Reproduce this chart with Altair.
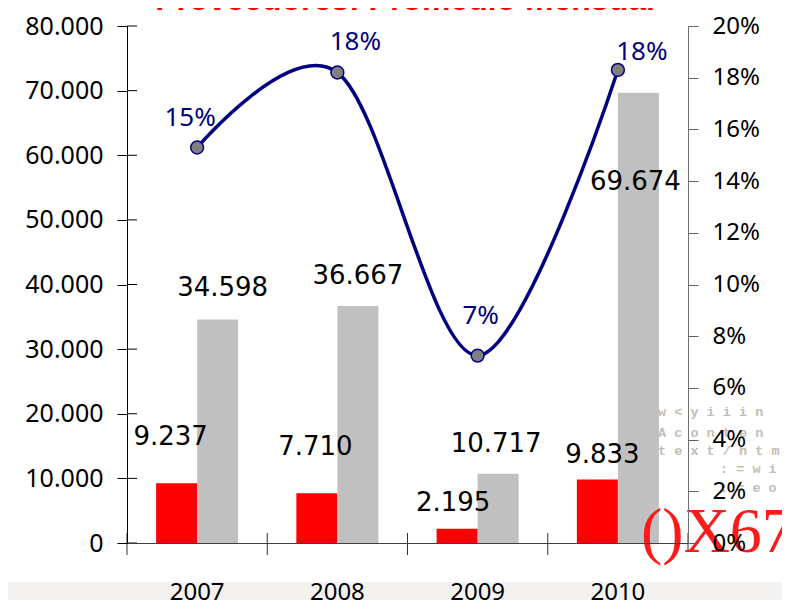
import altair as alt
import pandas as pd

# ---- data ----
years = ["2007", "2008", "2009", "2010"]
red_vals = [9237, 7710, 2195, 9833]
gray_vals = [34598, 36667, 10717, 69674]
pct_vals = [0.153, 0.182, 0.0725, 0.183]
left_ticks = [0, 10000, 20000, 30000, 40000, 50000, 60000, 70000, 80000]
right_ticks = [0, 0.02, 0.04, 0.06, 0.08, 0.10, 0.12, 0.14, 0.16, 0.18, 0.20]
title_text = "Proveedores: Promedio mensual"

# ---- label offsets (pixels, style only) ----
red_dx = [-6, -1.5, -4, 5]
red_dy = [-47, -47, -27, -25]
gray_dx = [5, 0, -2, -3]
gray_dy = [-32, -31, -31, 88]
pct_dx = [-7, 18, 3, 24]
pct_dy = [-30, -32, -41, -19]

W, H = 561, 517
NAVY = "#000080"

bars_df = pd.DataFrame({
    "year": years * 2,
    "series": ["a"] * 4 + ["b"] * 4,
    "value": red_vals + gray_vals,
})
line_df = pd.DataFrame({"year": years, "pct": pct_vals})
one = pd.DataFrame({"k": [1]})

xscale = alt.Scale(paddingInner=0, paddingOuter=0)
offscale = alt.Scale(paddingInner=0, paddingOuter=0.71)
lscale = alt.Scale(domain=[0, 80000])
rscale = alt.Scale(domain=[0, 0.2])

x_axis = alt.Axis(orient="bottom", title=None, ticks=False, tickSize=0, labelPadding=49,
                  labelBaseline="middle", labelAngle=0, labelFont="Noto Sans", labelFontSize=24,
                  labelColor="black", domainColor="#404040", zindex=1)
left_axis = alt.Axis(orient="left", title=None, values=left_ticks, tickSize=10, labelPadding=14,
                     labelFont="Noto Sans", labelFontSize=25, labelColor="black",
                     domainColor="black", tickColor="black", grid=False, zindex=1,
                     labelExpr="replace(format(datum.value, ','), ',', '.')")
right_axis = alt.Axis(orient="right", title=None, values=right_ticks, format=".0%", tickSize=10,
                      labelPadding=14, labelFont="Noto Sans", labelFontSize=24, labelColor="black",
                      domainColor="#707070", tickColor="#606060", grid=False, zindex=1)


def X(band=None):
    kw = {}
    if band is not None:
        kw["bandPosition"] = band
    return alt.X("year:N", sort=years, scale=xscale, axis=x_axis, **kw)


def YL(field):
    return alt.Y(field, scale=lscale, axis=left_axis)


def YR(field):
    return alt.Y(field, scale=rscale, axis=right_axis)


strip = alt.Chart(one).mark_rect(color="#f4f2f0").encode(
    x=alt.value(-130), x2=alt.value(700), y=alt.value(556), y2=alt.value(640))

bars = alt.Chart(bars_df).mark_bar().encode(
    x=X(),
    xOffset=alt.XOffset("series:N", scale=offscale),
    y=YL("value:Q"),
    color=alt.Color("series:N", scale=alt.Scale(domain=["a", "b"], range=["#FF0000", "#C0C0C0"]),
                    legend=None),
)

xticks = alt.Chart(pd.DataFrame({"year": years})).mark_rule(color="#303030").encode(
    x=X(band=0), y=alt.value(H - 10), y2=alt.value(H + 12))
xtick_end = alt.Chart(one).mark_rule(color="#303030").encode(
    x=alt.value(W), y=alt.value(H - 10), y2=alt.value(H + 8))

lticks = alt.Chart(pd.DataFrame({"v": left_ticks})).mark_rule(color="black").encode(
    y=YL("v:Q"), x=alt.value(0), x2=alt.value(10))

wm_lines = [("w < y i i i n", 531, 386), ("A   c o n t e n", 531, 407),
            ("t e x t / h t m .", 531, 425), (": = w i r", 593, 443), (": = e o", 593, 462)]
watermark = [
    alt.Chart(pd.DataFrame({"t": [t]})).mark_text(
        font="Liberation Mono", fontSize=13.5, fontWeight="bold", color="#c4bcb5",
        align="left", baseline="middle").encode(text="t:N", x=alt.value(xx), y=alt.value(yy))
    for t, xx, yy in wm_lines
]
red_glyph = alt.Chart(pd.DataFrame({"t": ["()X67"]})).mark_text(
    font="Liberation Serif", fontSize=64, color="#FF1a1a", align="left",
    baseline="alphabetic").encode(text="t:N", x=alt.value(514), y=alt.value(526))

label_layers = []
for i, yr in enumerate(years):
    for ser, dxs, dys in (("a", red_dx, red_dy), ("b", gray_dx, gray_dy)):
        label_layers.append(
            alt.Chart(bars_df)
            .transform_filter(f"datum.year == '{yr}' && datum.series == '{ser}'")
            .transform_calculate(lbl="replace(format(datum.value, ','), ',', '.')")
            .mark_text(font="DejaVu Sans", fontSize=26, color="black", baseline="middle",
                       align="center", dx=dxs[i], dy=dys[i] + 1)
            .encode(x=X(), xOffset=alt.XOffset("series:N", scale=offscale),
                    y=YL("value:Q"), text="lbl:N")
        )

title = alt.Chart(pd.DataFrame({"t": [title_text]})).mark_text(
    font="Liberation Sans", fontSize=32, fontWeight="bold", color="#FF0000",
    align="center", baseline="alphabetic").encode(text="t:N", x=alt.value(278), y=alt.value(-16))

left_group = alt.layer(strip, bars, xticks, xtick_end, lticks, *watermark, red_glyph,
                       *label_layers, title)

line = alt.Chart(line_df).mark_line(interpolate="cardinal", color=NAVY, strokeWidth=3.5).encode(
    x=X(), y=YR("pct:Q"))
points = alt.Chart(line_df).mark_point(shape="circle", filled=True, fill="#808080", stroke=NAVY,
                                       strokeWidth=1.5, size=165, opacity=1).encode(
    x=X(), y=YR("pct:Q"))
pct_layers = []
for i, yr in enumerate(years):
    pct_layers.append(
        alt.Chart(line_df)
        .transform_filter(f"datum.year == '{yr}'")
        .mark_text(font="Noto Sans", fontSize=26, color=NAVY, baseline="middle", align="center",
                   dx=pct_dx[i], dy=pct_dy[i] + 1)
        .encode(x=X(), y=YR("pct:Q"), text=alt.Text("pct:Q", format=".0%"))
    )
right_group = alt.layer(line, points, *pct_layers)

chart = (
    alt.layer(left_group, right_group)
    .resolve_scale(y="independent")
    .properties(width=W, height=H, autosize=alt.AutoSizeParams(type="none"),
                padding={"left": 119, "top": 18, "right": 94, "bottom": 57},
                background="white")
    .configure_view(strokeWidth=0)
)

chart.save("out.html", embed_options={"renderer": "svg", "actions": False})
